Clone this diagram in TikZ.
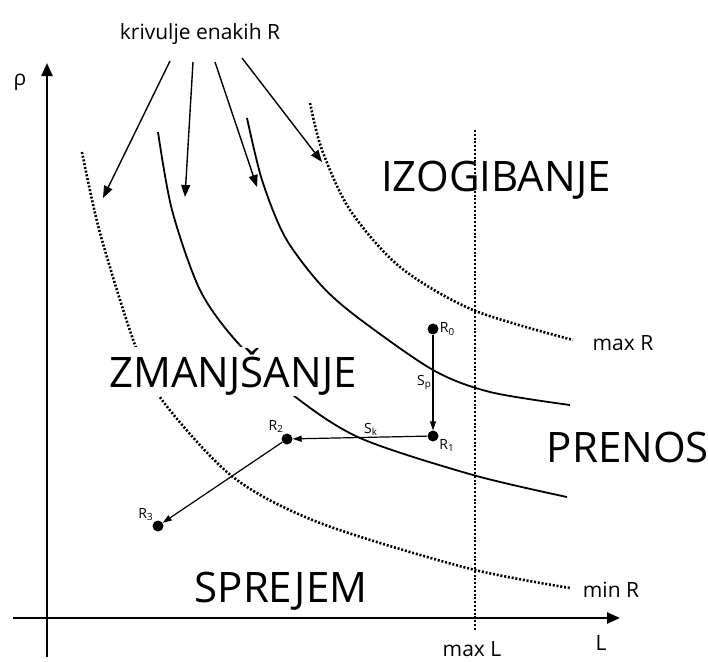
\documentclass[tikz,border=0pt]{standalone}
\usepackage{fontspec}
\setmainfont{Open Sans}
\usetikzlibrary{arrows.meta}

\begin{document}
\begin{tikzpicture}[x=1pt,y=-1pt,
  ax/.style={line width=2.4pt,-{Triangle[length=13pt,width=11pt]}},
  ar/.style={line width=1.4pt,-{Triangle[length=12pt,width=9pt]}},
  mv/.style={line width=1.2pt,-{Triangle[length=9pt,width=6pt]}},
  iso/.style={line width=1.8pt},
  lim/.style={line width=2.6pt,dash pattern=on 2pt off 1.8pt},
  region/.style={font=\fontsize{42}{42}\selectfont,inner sep=1pt,anchor=base},
  lbl/.style={font=\fontsize{21}{21}\selectfont,anchor=base},
  pt/.style={circle,fill,inner sep=0pt,minimum size=11pt},
  sub/.style={font=\fontsize{14}{14}\selectfont,inner sep=1pt}]
  \useasboundingbox (0,0) rectangle (708,661);
  % axes
  \coordinate (o1) at (47,657);
  \coordinate (o2) at (47,63);
  \coordinate (h1) at (13,618);
  \coordinate (h2) at (620,618);
  \draw[ax] (o1) -- (o2);
  \draw[ax] (h1) -- (h2);
  \node[lbl,anchor=center] (rho) at (20,82) {ρ};
  \node[lbl] (ll) at (601,650) {L};
  % limits
  \coordinate (lt) at (475,130);
  \coordinate (lb) at (475,630);
  \draw[lim] (lt) -- (lb);
  \draw[lim] plot[smooth] coordinates {(82,152) (100,233) (135,345) (162,400) (233,477) (320,523) (467,568) (570,588)};
  \draw[lim] plot[smooth] coordinates {(310,103) (322,150) (350,210) (400,267) (473,310) (573,340)};
  \draw[iso] plot[smooth] coordinates {(158,132) (172,210) (200,290) (237,342) (293,395) (360,438) (473,475) (567,497)};
  \draw[iso] plot[smooth] coordinates {(247,118) (262,180) (285,237) (320,284) (357,317) (433,370) (490,392) (570,405)};
  \node[lbl] (maxr) at (623,350) {max R};
  \node[lbl] (minr) at (611,597) {min R};
  \node[lbl] (maxl) at (472,656) {max L};
  % regions
  \node[region] (izo) at (496,191) {IZOGIBANJE};
  \node[region,fill=white] (zma) at (233,387) {ZMANJŠANJE};
  \node[region] (pre) at (628,462) {PRENOS};
  \node[region] (spr) at (281,602) {SPREJEM};
  % curves of equal R
  \node[lbl] (kriv) at (200,40) {krivulje enakih R};
  \coordinate (s1) at (170,61);
  \coordinate (s2) at (193,62);
  \coordinate (s3) at (215,62);
  \coordinate (s4) at (242,58);
  \coordinate (t1) at (103,198);
  \coordinate (t2) at (185,197);
  \coordinate (t3) at (257,187);
  \coordinate (t4) at (322,162);
  \draw[ar] (s1) -- (t1);
  \draw[ar] (s2) -- (t2);
  \draw[ar] (s3) -- (t3);
  \draw[ar] (s4) -- (t4);
  % path
  \node[pt,label={[sub]0:R\textsubscript{0}}] (r0) at (433,329) {};
  \node[pt,label={[sub]-25:R\textsubscript{1}}] (r1) at (433,436) {};
  \node[pt,label={[sub]115:R\textsubscript{2}}] (r2) at (287,439) {};
  \node[pt,label={[sub]130:R\textsubscript{3}}] (r3) at (158,526) {};
  \draw[mv] (r0) -- node[sub,left,pos=0.5] {S\textsubscript{p}} (r1);
  \draw[mv] (r1) -- node[sub,above,pos=0.42] {S\textsubscript{k}} (r2);
  \draw[mv] (r2) -- (r3);
\end{tikzpicture}
\end{document}
